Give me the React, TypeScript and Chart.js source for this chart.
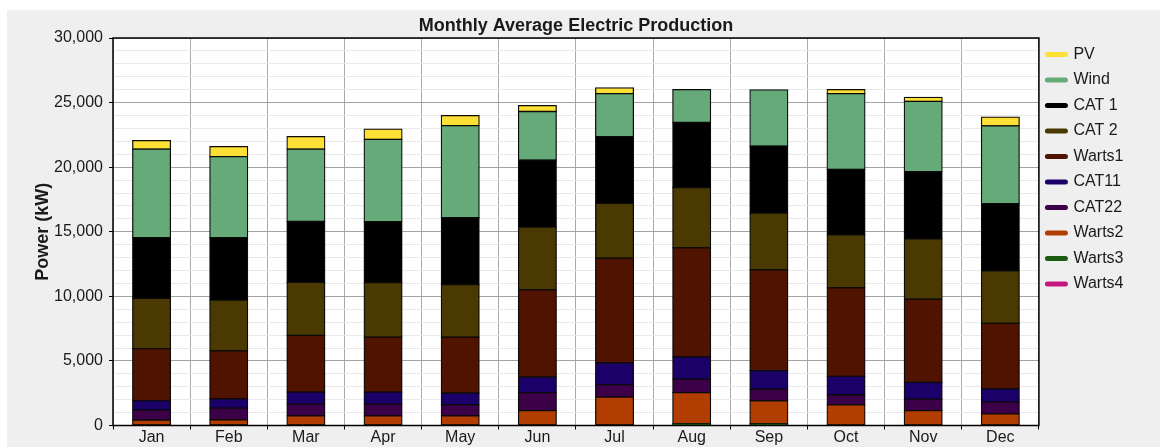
import React, { useEffect, useRef } from 'react';
import { Chart, registerables } from 'chart.js';

Chart.register(...registerables);

const months = ['Jan', 'Feb', 'Mar', 'Apr', 'May', 'Jun', 'Jul', 'Aug', 'Sep', 'Oct', 'Nov', 'Dec'];

const pv = [650, 780, 965, 800, 780, 465, 445, 0, 0, 310, 310, 680];
const wind = [6850, 6260, 5605, 6365, 7120, 3770, 3320, 2540, 4360, 5865, 5450, 6020];
const cat1 = [4700, 4850, 4720, 4720, 5185, 5185, 5170, 5040, 5185, 5065, 5195, 5195];
const cat2 = [3900, 3920, 4105, 4235, 4080, 4860, 4250, 4675, 4390, 4105, 4675, 4075];
const warts1 = [4030, 3715, 4385, 4250, 4330, 6745, 8100, 8435, 7810, 6855, 6440, 5060];
const cat11 = [720, 725, 935, 935, 910, 1200, 1690, 1715, 1425, 1425, 1295, 1035];
const cat22 = [780, 910, 910, 910, 855, 1400, 960, 1045, 910, 780, 890, 910];
const warts2 = [420, 430, 740, 740, 740, 1150, 2200, 2400, 1760, 1600, 1150, 900];
const warts3 = [0, 0, 0, 0, 0, 0, 0, 150, 150, 0, 0, 0];
const warts4 = [0, 0, 0, 0, 0, 0, 0, 0, 0, 0, 0, 0];

// bottom-to-top stacking order
const seriesNames = ['Warts4', 'Warts3', 'Warts2', 'CAT22', 'CAT11', 'Warts1', 'CAT 2', 'CAT 1', 'Wind', 'PV'];
const seriesData = [warts4, warts3, warts2, cat22, cat11, warts1, cat2, cat1, wind, pv];
const seriesColors = ['#c4177f', '#1d5b12', '#b13e00', '#3c0049', '#1c006a', '#4f1300', '#4a3900', '#000000', '#65aa78', '#fde035'];

const chartTitle = 'Monthly Average Electric Production';
const yAxisTitle = 'Power (kW)';
const yMax = 30000;
const yStep = 1000;
const yLabelEvery = 5000;

const FONT = '"Liberation Sans", Arial, sans-serif';
const TEXT = '#1a1a1a';

const bgPlugin = {
  id: 'bgPlugin',
  beforeDraw(chart: any) {
    const { ctx, chartArea: a, width, height } = chart;
    ctx.save();
    ctx.fillStyle = '#ffffff';
    ctx.fillRect(0, 0, width, height);
    ctx.fillStyle = '#efefef';
    ctx.fillRect(7, 10, width - 7, height - 10);
    ctx.fillStyle = '#ffffff';
    ctx.fillRect(a.left, a.top, a.right - a.left, a.bottom - a.top);
    ctx.restore();
  },
  afterDatasetsDraw(chart: any) {
    const { ctx, chartArea: a } = chart;
    ctx.save();
    ctx.strokeStyle = '#000000';
    ctx.lineWidth = 1.5;
    ctx.strokeRect(a.left, a.top, a.right - a.left, a.bottom - a.top);
    ctx.restore();
  },
};

export default function App() {
  const ref = useRef<HTMLCanvasElement | null>(null);

  useEffect(() => {
    const canvas = ref.current;
    if (!canvas) return;
    Chart.defaults.font.family = FONT;
    const chart = new Chart(canvas, {
      type: 'bar',
      data: {
        labels: months,
        datasets: seriesNames.map((name, i) => ({
          label: name,
          data: seriesData[i],
          backgroundColor: seriesColors[i],
          borderColor: '#0a0a0a',
          borderWidth: 1.25,
          borderSkipped: false,
          inflateAmount: 0.6,
          categoryPercentage: 1,
          barPercentage: 0.49,
        })),
      },
      options: {
        animation: false,
        responsive: false,
        maintainAspectRatio: false,
        layout: { padding: { left: 0, top: 0, right: 26.5, bottom: 0 } },
        plugins: {
          tooltip: { enabled: false },
          title: {
            display: true,
            text: chartTitle,
            fullSize: false,
            color: TEXT,
            font: { family: FONT, size: 18, weight: 'bold', lineHeight: 1.2 },
            padding: { top: 15, bottom: 1.4 },
          },
          legend: {
            display: true,
            position: 'right',
            align: 'start',
            fullSize: false,
            reverse: true,
            labels: {
              usePointStyle: true,
              pointStyleWidth: 18,
              padding: 8.5,
              color: TEXT,
              font: { family: FONT, size: 16, lineHeight: 1.0625 },
              generateLabels: (ch: any) =>
                ch.data.datasets.map((ds: any, i: number) => ({
                  text: [ds.label],
                  fillStyle: ds.backgroundColor,
                  strokeStyle: ds.backgroundColor,
                  lineWidth: 5,
                  lineCap: 'round',
                  pointStyle: 'line',
                  hidden: false,
                  datasetIndex: i,
                  fontColor: TEXT,
                })),
            },
          },
        },
        scales: {
          x: {
            stacked: true,
            border: { display: false },
            grid: {
              color: '#a9a9a9',
              lineWidth: 1,
              tickColor: '#000000',
              tickLength: 4,
              offset: true,
            },
            ticks: {
              color: TEXT,
              font: { family: FONT, size: 16 },
              padding: -2,
              maxRotation: 0,
              autoSkip: false,
            },
            afterFit: (s: any) => {
              s.height = 21.5;
            },
          },
          y: {
            stacked: true,
            min: 0,
            max: yMax,
            border: { display: false },
            grid: {
              color: (c: any) => (c.tick && c.tick.value % yLabelEvery === 0 ? '#a3a3a3' : '#e9e9e9'),
              tickColor: (c: any) => (c.tick && c.tick.value % yLabelEvery === 0 ? '#000000' : 'rgba(0,0,0,0)'),
              tickLength: 4,
              lineWidth: 1,
            },
            ticks: {
              stepSize: yStep,
              autoSkip: false,
              color: TEXT,
              font: { family: FONT, size: 16 },
              padding: 6,
              callback: (v: any) => (Number(v) % yLabelEvery === 0 ? Number(v).toLocaleString('en-US') : ''),
            },
            title: {
              display: true,
              text: yAxisTitle,
              color: TEXT,
              font: { family: FONT, size: 18, weight: 'bold', lineHeight: 1.2 },
              padding: { top: 32.5, bottom: 0 },
            },
            afterFit: (s: any) => {
              s.width = 113;
            },
          },
        },
      },
      plugins: [bgPlugin],
    } as any);
    return () => chart.destroy();
  }, []);

  return (
    <div style={{ position: 'absolute', left: 0, top: 0, width: 1160, height: 447 }}>
      <canvas ref={ref} width={1160} height={447} style={{ display: 'block', width: 1160, height: 447 }} />
    </div>
  );
}
